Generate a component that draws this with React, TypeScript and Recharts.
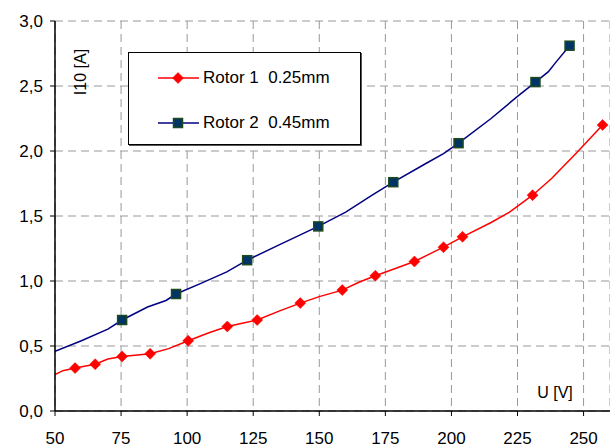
import {
  ComposedChart,
  Line,
  Scatter,
  XAxis,
  YAxis,
  CartesianGrid,
  Legend,
} from 'recharts'

// Rotor 1 (0.25mm) curve
const rotor1U = [50, 53, 57.6, 65.2, 70, 75.4, 86, 93, 100.4, 108, 115.2, 126.5, 135, 142.8, 150, 158.7, 165, 171.2, 178, 186, 192, 197, 204.2, 215, 222, 230.7, 238, 248, 257.2]
const rotor1I = [0.28, 0.31, 0.33, 0.36, 0.4, 0.42, 0.44, 0.48, 0.54, 0.6, 0.65, 0.7, 0.77, 0.83, 0.88, 0.93, 0.99, 1.04, 1.09, 1.15, 1.21, 1.26, 1.34, 1.45, 1.53, 1.66, 1.79, 2.0, 2.2]
const rotor1MarkU = [57.6, 65.2, 75.4, 86, 100.4, 115.2, 126.5, 142.8, 158.7, 171.2, 186, 197, 204.2, 230.7, 257.2]
const rotor1MarkI = [0.33, 0.36, 0.42, 0.44, 0.54, 0.65, 0.7, 0.83, 0.93, 1.04, 1.15, 1.26, 1.34, 1.66, 2.2]

// Rotor 2 (0.45mm)
const rotor2U = [50, 60, 70, 75.4, 85, 92, 95.8, 105, 115, 122.7, 135, 149.6, 160, 170, 178, 190, 197, 202.7, 215, 225, 231.8, 236.7, 239.4, 244.7]
const rotor2I = [0.46, 0.54, 0.63, 0.7, 0.8, 0.85, 0.9, 0.98, 1.07, 1.16, 1.28, 1.42, 1.53, 1.66, 1.76, 1.9, 1.98, 2.06, 2.25, 2.42, 2.53, 2.61, 2.68, 2.81]
const rotor2MarkU = [75.4, 95.8, 122.7, 149.6, 178, 202.7, 231.8, 244.7]
const rotor2MarkI = [0.7, 0.9, 1.16, 1.42, 1.76, 2.06, 2.53, 2.81]

const xTicks = [50, 75, 100, 125, 150, 175, 200, 225, 250]
const yTicks = [0, 0.5, 1, 1.5, 2, 2.5, 3]

const zip = (u: number[], i: number[]) => u.map((v, k) => ({ u: v, i: i[k] }))

const rotor1 = zip(rotor1U, rotor1I)
const rotor1Marks = zip(rotor1MarkU, rotor1MarkI)
const rotor2 = zip(rotor2U, rotor2I)
const rotor2Marks = zip(rotor2MarkU, rotor2MarkI)

const RED = '#ff0000'
const NAVY = '#000080'
const FONT = '"Liberation Sans", Arial, sans-serif'

const Diamond = ({ cx, cy }: any) => (
  <polygon
    points={`${cx},${cy - 5.5} ${cx + 5.5},${cy} ${cx},${cy + 5.5} ${cx - 5.5},${cy}`}
    fill={RED}
    stroke={RED}
    strokeWidth={0.5}
  />
)

const Square = ({ cx, cy }: any) => (
  <rect x={cx - 4.5} y={cy - 4.5} width={9} height={9} fill="#003366" stroke="#1e4a1e" strokeWidth={1.5} />
)

function LegendBox() {
  const row = (color: string, marker: 'd' | 's', label: string) => (
    <div style={{ display: 'flex', alignItems: 'center', height: 45 }}>
      <svg width={46} height={14} style={{ marginLeft: 28 }}>
        <line x1={1} y1={7} x2={42} y2={7} stroke={color} strokeWidth={1.5} />
        {marker === 'd' ? <Diamond cx={21} cy={7} /> : <Square cx={21} cy={7} />}
      </svg>
      <span style={{ fontFamily: FONT, fontSize: 17, color: '#000', whiteSpace: 'pre' }}>{label}</span>
    </div>
  )
  return (
    <div
      style={{
        width: 233,
        height: 93,
        border: '1px solid #000',
        boxShadow: '1px 1px 0 #555',
        background: '#fff',
        paddingTop: 2,
        boxSizing: 'border-box',
      }}
    >
      {row(RED, 'd', 'Rotor 1  0.25mm')}
      {row(NAVY, 's', 'Rotor 2  0.45mm')}
    </div>
  )
}

export default function App() {
  return (
    <div style={{ position: 'absolute', left: 0, top: 0, width: 610, height: 448, background: '#fff' }}>
      <ComposedChart width={610} height={448} margin={{ top: 21, right: 0, bottom: 0, left: 0 }}>
        <CartesianGrid stroke="#999" strokeDasharray="8 5" strokeWidth={1} />
        <XAxis
          type="number"
          dataKey="u"
          domain={[50, 260]}
          ticks={xTicks}
          allowDataOverflow
          height={37}
          tickSize={5}
          tickMargin={16}
          axisLine={{ stroke: '#000', strokeWidth: 1.5 }}
          tickLine={{ stroke: '#000' }}
          tick={{ fill: '#000', fontSize: 17, fontFamily: FONT }}
          label={{
            value: 'U [V]',
            content: () => (
              <text x={555} y={398} textAnchor="middle" fontSize={16} fontFamily={FONT} fill="#000">
                U [V]
              </text>
            ),
          }}
        />
        <YAxis
          type="number"
          domain={[0, 3]}
          ticks={yTicks}
          width={55}
          tickSize={5}
          tickMargin={7}
          axisLine={{ stroke: '#000', strokeWidth: 1.5 }}
          tickLine={{ stroke: '#000' }}
          tick={{ fill: '#000', fontSize: 17, fontFamily: FONT }}
          tickFormatter={(v: number) => v.toFixed(1).replace('.', ',')}
          label={{
            value: 'I10 [A]',
            content: () => (
              <text
                x={80}
                y={72}
                transform="rotate(-90 80 72)"
                textAnchor="middle"
                dominantBaseline="central"
                fontSize={16}
                fontFamily={FONT}
                fill="#000"
              >
                I10 [A]
              </text>
            ),
          }}
        />
        <Legend
          layout="vertical"
          verticalAlign="middle"
          align="center"
          content={() => <LegendBox />}
          wrapperStyle={{ position: 'absolute', left: 128, top: 52, width: 234, height: 93 }}
        />
        <Line data={rotor1} dataKey="i" stroke={RED} strokeWidth={1.5} dot={false} isAnimationActive={false} legendType="none" />
        <Line data={rotor2} dataKey="i" stroke={NAVY} strokeWidth={1.5} dot={false} isAnimationActive={false} legendType="none" />
        <Scatter data={rotor1Marks} dataKey="i" shape={<Diamond />} isAnimationActive={false} legendType="none" />
        <Scatter data={rotor2Marks} dataKey="i" shape={<Square />} isAnimationActive={false} legendType="none" />
      </ComposedChart>
    </div>
  )
}
